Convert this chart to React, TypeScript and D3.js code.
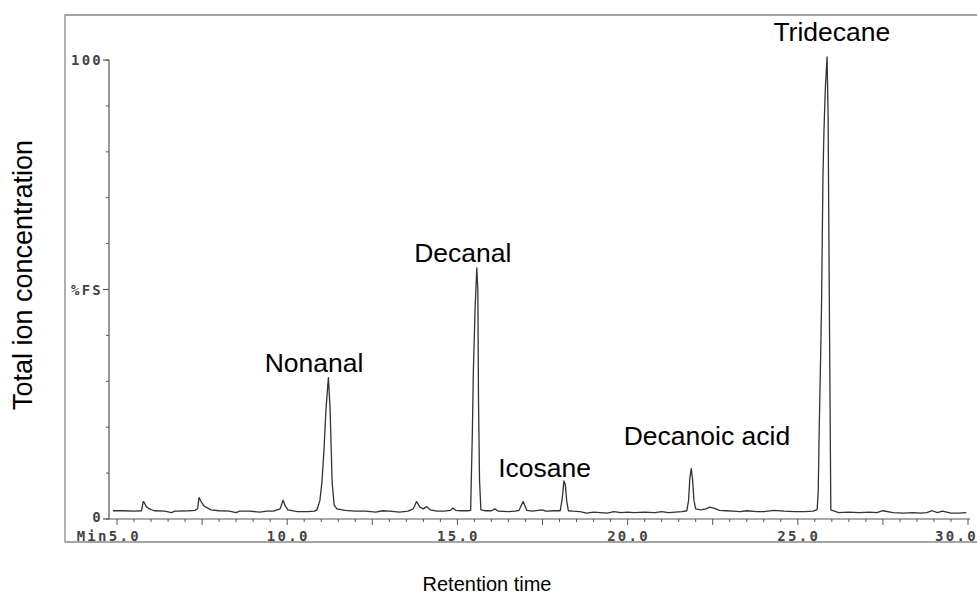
import React from "react";
import * as d3 from "d3";

// Retention time (min) and total ion signal (%FS)
const times: number[] = [
  4.88, 5.2, 5.5, 5.72, 5.77, 5.8, 5.86, 5.95, 6.1, 6.4, 6.6, 6.7, 6.8, 7.1, 7.3,
  7.37, 7.41, 7.47, 7.56, 7.76, 8.0, 8.3, 8.5, 8.6, 8.9, 9.2, 9.4, 9.6, 9.79,
  9.88, 9.94, 10.02, 10.3, 10.6, 10.8, 10.875, 10.96, 11.02, 11.08, 11.14, 11.21,
  11.26, 11.29, 11.32, 11.38, 11.46, 11.7, 12.0, 12.3, 12.6, 12.8, 13.0, 13.3,
  13.55, 13.7, 13.8, 13.9, 14.0, 14.1, 14.2, 14.4, 14.6, 14.8, 14.87, 14.95,
  15.1, 15.3, 15.39, 15.4, 15.44, 15.47, 15.52, 15.57, 15.6, 15.62, 15.65,
  15.69, 15.8, 16.0, 16.1, 16.2, 16.5, 16.7, 16.81, 16.93, 17.04, 17.2, 17.49,
  17.6, 17.85, 18.02, 18.08, 18.13, 18.17, 18.21, 18.26, 18.4, 18.6, 18.8, 19.0,
  19.2, 19.4, 19.6, 19.8, 20.0, 20.2, 20.5, 20.8, 21.0, 21.2, 21.4, 21.6, 21.74,
  21.79, 21.83, 21.87, 21.91, 21.95, 22.0, 22.15, 22.3, 22.42, 22.55, 22.7, 22.9,
  23.1, 23.3, 23.5, 23.8, 24.0, 24.3, 24.6, 24.9, 25.2, 25.45, 25.55, 25.57,
  25.6, 25.63, 25.67, 25.7, 25.72, 25.74, 25.77, 25.81, 25.86, 25.89, 25.92,
  25.97, 26.2, 26.5, 26.8, 27.1, 27.32, 27.5, 27.8, 28.1, 28.4, 28.6, 28.79,
  28.95, 29.1, 29.25, 29.5, 29.75, 29.95,
];
const signal: number[] = [
  1.8, 1.8, 1.7, 1.8, 3.8, 3.6, 2.7, 2.2, 1.8, 1.7, 1.4, 1.7, 1.7, 1.8, 1.9,
  2.3, 4.7, 3.8, 2.8, 2.0, 1.8, 1.7, 1.4, 1.7, 1.7, 1.5, 1.7, 1.7, 2.2,
  4.1, 2.9, 2.0, 1.6, 1.6, 1.7, 2.0, 4.0, 8.0, 15, 24, 30.8,
  24, 16, 8, 3.0, 2.2, 1.9, 1.7, 1.7, 1.5, 1.8, 1.7, 1.5,
  1.7, 2.2, 3.8, 2.6, 2.2, 2.7, 2.0, 1.7, 1.7, 1.9, 2.4, 1.9,
  1.8, 1.8, 1.9, 5.7, 19, 32.5, 46, 54.7, 50, 26, 8.5,
  2.0, 1.8, 1.8, 2.2, 1.7, 1.6, 1.7, 1.9, 3.8, 1.9, 1.7, 2.0,
  1.7, 1.8, 1.8, 4.5, 8.3, 7.5, 4.0, 1.8, 1.7, 1.6, 1.3, 1.5,
  1.4, 1.3, 1.6, 1.4, 1.5, 1.4, 1.5, 1.4, 1.6, 1.4, 1.5, 1.6, 1.8,
  4.0, 9.0, 11, 8.5, 4.0, 2.2, 2.0, 2.2, 2.6, 2.3, 1.9, 1.8,
  1.7, 1.6, 1.8, 1.6, 1.6, 1.9, 1.7, 1.6, 1.6, 1.7, 2.0, 2.2, 6,
  20, 35, 48, 62, 75, 85, 94, 100.7, 88, 54, 2.0,
  1.4, 1.5, 1.4, 1.5, 1.4, 1.8, 1.4, 1.3, 1.4, 1.3, 1.4, 1.8,
  1.4, 1.7, 1.3, 1.3, 1.4, 1.3,
];

const peakLabels: string[] = ["Nonanal", "Decanal", "Icosane", "Decanoic acid", "Tridecane"];
const peakLabelTimes: number[] = [10.79, 15.16, 17.56, 22.33, 26.0];
const peakLabelLevels: number[] = [32.0, 56.0, 9.15, 16.1, 104.2];

const xTickValues: number[] = [5, 10, 15, 20, 25, 30];
const xTickLabels: string[] = ["Min5.0", "10.0", "15.0", "20.0", "25.0", "30.0"];
const yTickValues: number[] = [0, 50, 100];
const yTickLabels: string[] = ["0", "%FS", "100"];

const xTitle = "Retention time";
const yTitle = "Total ion concentration";

const W = 977;
const H = 597;

export default function App() {
  const x = d3.scaleLinear().domain([5, 30]).range([117, 968]);
  const y = d3.scaleLinear().domain([0, 100]).range([519, 60]);

  const pts: [number, number][] = times.map((t, i) => [t, signal[i]]);
  const line = d3
    .line<[number, number]>()
    .x((d) => x(d[0]))
    .y((d) => y(d[1]));

  const axisColor = "#555";
  const mono = "'DejaVu Sans Mono', 'Liberation Mono', monospace";
  const sans = "'Liberation Sans', Arial, sans-serif";

  const minorX = d3.range(5, 30.001, 0.5);
  const minorY = d3.range(0, 100.001, 10);
  const x0 = x(5) - 8;
  const x1 = x(30) + 2;
  const last = xTickValues.length - 1;

  return (
    <svg
      width={W}
      height={H}
      style={{ position: "absolute", left: 0, top: 0, background: "#fff" }}
    >
      {/* outer frame */}
      <path
        d={`M${W} 15 H65 V542 H${W}`}
        fill="none"
        stroke="#888"
        strokeWidth={1.3}
      />
      {/* y axis */}
      <line x1={x0} x2={x0} y1={y(100)} y2={y(0)} stroke={axisColor} strokeWidth={1.2} />
      {minorY.map((v) => (
        <line key={"my" + v} x1={x0 - 3} x2={x0} y1={y(v)} y2={y(v)} stroke={axisColor} strokeWidth={1} />
      ))}
      {yTickValues.map((v, i) => (
        <g key={"yt" + v}>
          <line x1={x0 - 6} x2={x0} y1={y(v)} y2={y(v)} stroke={axisColor} strokeWidth={1.2} />
          <text
            x={x0 - 6}
            y={y(v)}
            dy={v === 0 ? "0.22em" : "0.36em"}
            textAnchor="end"
            fontFamily={mono}
            fontSize={14}
            fontWeight="bold"
            letterSpacing={2.2}
            fill="#444"
          >
            {yTickLabels[i]}
          </text>
        </g>
      ))}
      {/* x axis */}
      <line x1={x0} x2={x1} y1={y(0)} y2={y(0)} stroke={axisColor} strokeWidth={1.2} />
      {minorX.map((t) => {
        const major = Math.abs(t / 2.5 - Math.round(t / 2.5)) < 1e-6;
        return (
          <line
            key={"mx" + t}
            x1={x(t)}
            x2={x(t)}
            y1={y(0)}
            y2={y(0) + (major ? 6 : 3)}
            stroke={axisColor}
            strokeWidth={1}
          />
        );
      })}
      {xTickValues.map((t, i) => (
        <text
          key={"xt" + t}
          x={i === last ? x(t) + 10 : i === 0 ? x(t) + 24 : x(t) + 1}
          y={541}
          textAnchor={i === last || i === 0 ? "end" : "middle"}
          fontFamily={mono}
          fontSize={14}
          fontWeight="bold"
          letterSpacing={2.3}
          fill="#444"
        >
          {xTickLabels[i]}
        </text>
      ))}
      {/* trace */}
      <path d={line(pts) || ""} fill="none" stroke="#333" strokeWidth={1.3} strokeLinejoin="round" />
      {/* peak labels */}
      {peakLabels.map((lab, i) => (
        <text
          key={lab}
          x={x(peakLabelTimes[i])}
          y={y(peakLabelLevels[i])}
          textAnchor="middle"
          fontFamily={sans}
          fontSize={26.5}
          fill="#000"
        >
          {lab}
        </text>
      ))}
      {/* axis titles */}
      <text x={487} y={591} textAnchor="middle" fontFamily={sans} fontSize={20} fill="#000">
        {xTitle}
      </text>
      <text
        transform={`translate(32,${275}) rotate(-90)`}
        textAnchor="middle"
        fontFamily={sans}
        fontSize={27}
        fill="#000"
      >
        {yTitle}
      </text>
    </svg>
  );
}
